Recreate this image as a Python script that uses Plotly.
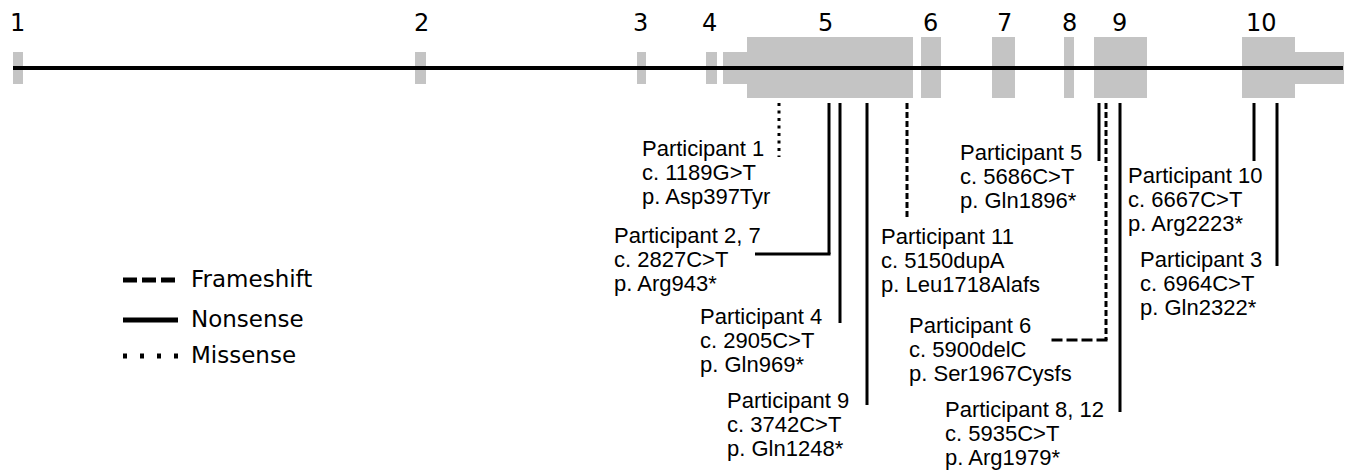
import plotly.graph_objects as go

# ---------------- data ----------------
# gene structure blocks (schematic gene coordinates)
block_start = [13, 415, 637, 706, 723, 747, 921, 992, 1064, 1094, 1242, 1295]
block_end = [23, 426, 646, 717, 747, 913, 941, 1015, 1074, 1147, 1295, 1344]
block_kind = ["utr", "utr", "utr", "utr", "utr", "cds", "cds", "cds", "cds", "cds", "cds", "utr"]
gene_span = [13, 1343]

exon_numbers = ["1", "2", "3", "4", "5", "6", "7", "8", "9", "10"]
exon_label_pos = [17, 421, 640, 709, 825, 930, 1004, 1069, 1119, 1261]

# variants
participants = ["Participant 1", "Participant 2, 7", "Participant 4", "Participant 9",
                "Participant 11", "Participant 5", "Participant 6", "Participant 8, 12",
                "Participant 10", "Participant 3"]
cdna = ["c. 1189G>T", "c. 2827C>T", "c. 2905C>T", "c. 3742C>T", "c. 5150dupA",
        "c. 5686C>T", "c. 5900delC", "c. 5935C>T", "c. 6667C>T", "c. 6964C>T"]
protein = ["p. Asp397Tyr", "p. Arg943*", "p. Gln969*", "p. Gln1248*", "p. Leu1718Alafs",
           "p. Gln1896*", "p. Ser1967Cysfs", "p. Arg1979*", "p. Arg2223*", "p. Gln2322*"]
var_type = ["Missense", "Nonsense", "Nonsense", "Nonsense", "Frameshift",
            "Nonsense", "Frameshift", "Nonsense", "Nonsense", "Nonsense"]
var_pos = [779, 829, 840, 867, 907, 1099, 1106, 1120, 1254, 1277]

# callout geometry
stem_end = [157, 254, 323, 405, 220, 161, 340, 412, 161, 266]
elbow_to = [None, 755, None, None, None, None, 1048, None, None, None]
label_x = [640, 612, 698, 725, 879, 958, 907, 943, 1126, 1138]
label_baseline = [156, 243, 324, 408, 244, 160, 333, 417, 183, 267]

legend_types = ["Frameshift", "Nonsense", "Missense"]

# ---------------- styles ----------------
GREY = "#c4c4c4"
BLACK = "#000000"
LBL_FONT = dict(family="Liberation Sans, Arial, sans-serif", size=22, color=BLACK)
NUM_FONT = dict(family="DejaVu Sans, Verdana, sans-serif", size=24, color=BLACK)
LEG_FONT = dict(family="DejaVu Sans, Verdana, sans-serif", size=23, color=BLACK)
LINE_GAP = 24.3
stem_top = 103
dash_v = {"Frameshift": "6px,3px", "Nonsense": "solid", "Missense": "3px,4.5px"}
dash_h = {"Frameshift": "11px,4px", "Nonsense": "solid", "Missense": "3px,4.5px"}
dash_leg = {"Frameshift": "14px,5px", "Nonsense": "solid", "Missense": "4px,13px"}
thin_y = (52, 84)
thick_y = (37, 98)
backbone_y = 68

shapes = []
annotations = []

# exon blocks
for s, e, k in zip(block_start, block_end, block_kind):
    y0, y1 = thin_y if k == "utr" else thick_y
    shapes.append(dict(type="rect", xref="x", yref="y", x0=s, x1=e, y0=y0, y1=y1,
                       fillcolor=GREY, line=dict(width=0), layer="above"))
# backbone
shapes.append(dict(type="line", xref="x", yref="y", x0=gene_span[0], x1=gene_span[1],
                   y0=backbone_y, y1=backbone_y, line=dict(color=BLACK, width=4), layer="above"))

# exon numbers
for t, xp in zip(exon_numbers, exon_label_pos):
    annotations.append(dict(x=xp, y=32 - 0.36 * NUM_FONT["size"], xref="x", yref="y", text=t,
                            showarrow=False, xanchor="center", yanchor="middle", font=NUM_FONT,
                            borderpad=0))

# variants
for i in range(len(var_pos)):
    t = var_type[i]
    shapes.append(dict(type="line", xref="x", yref="y", x0=var_pos[i], x1=var_pos[i],
                       y0=stem_top, y1=stem_end[i],
                       line=dict(color=BLACK, width=3, dash=dash_v[t]), layer="above"))
    if elbow_to[i] is not None:
        shapes.append(dict(type="line", xref="x", yref="y", x0=var_pos[i] + 1.5, x1=elbow_to[i],
                           y0=stem_end[i], y1=stem_end[i],
                           line=dict(color=BLACK, width=3, dash=dash_h[t]), layer="above"))
    for j, txt in enumerate([participants[i], cdna[i], protein[i]]):
        b = label_baseline[i] + j * LINE_GAP
        annotations.append(dict(x=label_x[i] + 1, y=b - 0.36 * LBL_FONT["size"], xref="x", yref="y",
                                text=txt, showarrow=False, xanchor="left", yanchor="middle",
                                font=LBL_FONT, borderpad=0))

# legend
leg_y = [280, 320, 356]
leg_base = [287, 327, 363]
for t, ly, lb in zip(legend_types, leg_y, leg_base):
    shapes.append(dict(type="line", xref="x", yref="y", x0=123, x1=178, y0=ly, y1=ly,
                       line=dict(color=BLACK, width=5, dash=dash_leg[t]), layer="above"))
    annotations.append(dict(x=190, y=lb - 0.36 * LEG_FONT["size"], xref="x", yref="y", text=t,
                            showarrow=False, xanchor="left", yanchor="middle", font=LEG_FONT,
                            borderpad=0))

fig = go.Figure()
fig.add_trace(go.Scatter(x=[0, 1352], y=[0, 475], mode="markers",
                         marker=dict(opacity=0), hoverinfo="skip", showlegend=False))
fig.update_layout(
    width=1352, height=475, margin=dict(l=0, r=0, t=0, b=0),
    paper_bgcolor="white", plot_bgcolor="white",
    xaxis=dict(range=[0, 1352], visible=False, fixedrange=True),
    yaxis=dict(range=[475, 0], visible=False, fixedrange=True),
    shapes=shapes, annotations=annotations, showlegend=False,
)
fig.write_html("out.html", config={"displayModeBar": False},
               post_script="document.body.style.margin='0';document.body.style.overflow='hidden';")
